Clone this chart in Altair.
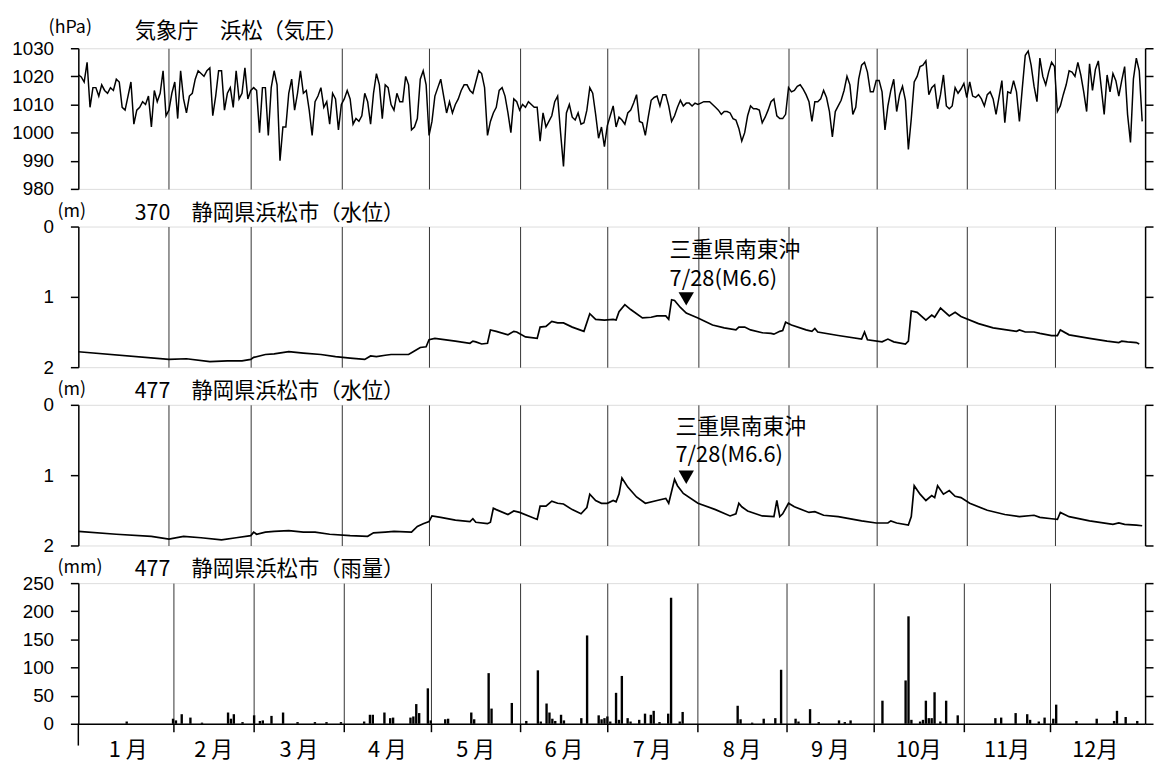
import altair as alt
import pandas as pd

# ---------------- data ----------------
# daily mean pressure, JMA Hamamatsu (hPa), day 1..365
pressure = [
    1020.5, 1019.8, 1018, 1025, 1009, 1016, 1016, 1013, 1017, 1015,
    1014, 1016, 1015, 1019, 1018, 1009, 1008, 1013, 1018, 1003,
    1008, 1009, 1011, 1010, 1013, 1002, 1015, 1011, 1014, 1022,
    1006, 1008, 1014, 1018, 1005, 1022, 1012, 1007, 1013, 1014,
    1019, 1022, 1021, 1020, 1022, 1023, 1006, 1013, 1022, 1022,
    1008, 1014, 1016, 1009, 1022, 1012, 1014, 1023, 1012, 1015,
    1016, 1015, 1000, 1016, 1016, 999, 1016, 1022, 1017, 990,
    1002, 1002, 1014, 1019, 1008, 1014, 1022, 1014, 1015, 1008,
    999, 1011, 1013, 1016, 1009, 1011, 1003, 1014, 1012, 1001,
    1010, 1012, 1015, 1012, 1003, 1005, 1004, 1006, 1014, 1011,
    1003, 1014, 1021, 1017, 1005, 1017, 1016, 1010, 1008, 1014,
    1011, 1011, 1020, 1017, 1001, 1002, 1005, 1019, 1022, 1017,
    999, 1004, 1013, 1016, 1019, 1013, 1007, 1011, 1007, 1010,
    1012, 1015, 1017, 1017, 1015, 1014, 1018, 1022, 1021, 1016,
    999, 1004, 1007, 1009, 1015, 1016, 1013, 1007, 1000, 1012,
    1011, 1008, 1010, 1009, 1011, 1010, 1009, 1009, 997, 1007,
    1002, 1004, 1006, 1011, 1013, 1000, 988, 1007, 1010, 1005.5,
    1004.5, 1007, 1003, 1003.5, 1008, 1016, 1014, 1006.5, 998, 1002,
    995, 1002.5, 1006, 1009.5, 1002, 1005.5, 1004.5, 1003, 1007, 1008,
    1010.5, 1013.5, 1004, 1003.5, 999, 1005.5, 1011.5, 1012.5, 1013, 1009.5,
    1013.5, 1013.5, 1009.5, 1004, 1006, 1009, 1011.5, 1009.5, 1010.5, 1010.5,
    1009.5, 1010.5, 1010, 1010.5, 1011, 1011, 1011, 1010, 1009, 1008,
    1006.5, 1007.5, 1007.5, 1007, 1005, 1004.5, 1001.5, 997, 1000, 1006,
    1009.5, 1008.5, 1008.5, 1008, 1003.5, 1005.5, 1008, 1011, 1012, 1006,
    1005, 1005, 1006.5, 1016, 1014.5, 1015, 1016.5, 1017, 1015.5, 1013.5,
    1011, 1004, 1011, 1011, 1012, 1015, 1012.5, 1007.5, 998.5, 1007.5,
    1009.5, 1011.5, 1015, 1020, 1017, 1006.5, 1009, 1019, 1024, 1025,
    1021.5, 1014.5, 1014.5, 1018.5, 1018.5, 1014.5, 1001, 1009.5, 1015, 1019,
    1007.5, 1013.5, 1016.5, 1011.5, 994, 1005, 1018, 1020, 1023.5, 1024,
    1025.5, 1013.5, 1016, 1017, 1008.5, 1013.5, 1020.5, 1009.5, 1008.5, 1009.5,
    1016, 1014, 1015.5, 1017.5, 1012.5, 1018, 1013, 1012.5, 1013.5, 1012,
    1009.5, 1013.5, 1014.5, 1012, 1006.5, 1012.5, 1018.5, 1003.5, 1014.5, 1014,
    1018.5, 1014.5, 1004, 1016, 1027.5, 1029, 1024, 1016.5, 1011, 1026.5,
    1020, 1017, 1021.5, 1025, 1023.5, 1007.5, 1009.5, 1013.5, 1017, 1022,
    1021.5, 1020, 1025, 1020.5, 1014.5, 1007.5, 1024.5, 1015, 1022.5, 1025.5,
    1016, 1006.5, 1020.5, 1014.5, 1021, 1018.5, 1013, 1018.5, 1023.5, 1006.5,
    996.5, 1019, 1026.5, 1022, 1004,
]

# well 370 water level (m below surface)
w370_day = [1, 32, 38, 46, 52, 57, 60, 61, 65, 68, 73, 78, 84, 89, 94, 99, 101, 103, 106, 108,
            114, 116, 118, 120, 121, 123, 130, 135, 136, 137, 139, 141, 142, 144, 148, 150, 151, 154, 158, 159,
            161, 163, 165, 167, 170, 174, 176, 178, 181, 184, 185, 186, 188, 190, 194, 197, 199, 202, 203, 204,
            205, 207, 209, 213, 218, 222, 226, 227, 229, 231, 235, 238, 239, 241, 242, 243, 245, 250, 252, 253,
            254, 261, 269, 270, 271, 276, 278, 280, 284, 285, 286, 288, 291, 293, 294, 296, 299, 301, 303, 309,
            314, 322, 323, 325, 328, 330, 334, 336, 337, 340, 347, 353, 357, 358, 360, 363, 364]
w370_val = [1.78, 1.89, 1.88, 1.92, 1.91, 1.91, 1.89, 1.86, 1.82, 1.81, 1.78, 1.80, 1.82, 1.85, 1.87, 1.89, 1.84, 1.85, 1.83, 1.82,
            1.82, 1.77, 1.72, 1.71, 1.61, 1.59, 1.63, 1.66, 1.63, 1.64, 1.67, 1.66, 1.47, 1.49, 1.54, 1.49, 1.50, 1.57, 1.59, 1.43,
            1.42, 1.35, 1.37, 1.37, 1.43, 1.49, 1.24, 1.32, 1.33, 1.32, 1.33, 1.21, 1.11, 1.18, 1.30, 1.29, 1.27, 1.27, 1.32, 1.04,
            1.05, 1.15, 1.23, 1.30, 1.40, 1.44, 1.47, 1.43, 1.43, 1.47, 1.51, 1.52, 1.53, 1.49, 1.48, 1.36, 1.40, 1.47, 1.49, 1.45,
            1.50, 1.55, 1.60, 1.50, 1.61, 1.64, 1.60, 1.64, 1.67, 1.63, 1.20, 1.22, 1.33, 1.26, 1.29, 1.16, 1.27, 1.22, 1.28, 1.38,
            1.44, 1.49, 1.47, 1.50, 1.50, 1.52, 1.55, 1.55, 1.47, 1.54, 1.59, 1.63, 1.65, 1.63, 1.64, 1.65, 1.67]

# well 477 water level (m below surface)
w477_day = [1, 14, 26, 32, 37, 43, 50, 55, 60, 61, 62, 65, 68, 73, 78, 82, 87, 94, 100, 102,
            106, 109, 115, 117, 119, 121, 122, 125, 130, 135, 136, 137, 141, 142, 143, 144, 148, 150, 152, 158,
            159, 161, 163, 165, 167, 170, 173, 175, 176, 178, 180, 182, 184, 185, 186, 187, 189, 192, 195, 199,
            202, 203, 205, 206, 208, 213, 219, 224, 226, 227, 228, 230, 235, 239, 240, 241, 242, 244, 246, 251,
            253, 256, 261, 269, 274, 278, 279, 281, 285, 286, 287, 289, 291, 293, 294, 295, 297, 299, 301, 303,
            306, 312, 318, 323, 328, 330, 334, 336, 337, 340, 347, 355, 357, 359, 363, 365]
w477_val = [1.80, 1.84, 1.87, 1.91, 1.87, 1.89, 1.92, 1.89, 1.86, 1.81, 1.84, 1.81, 1.80, 1.79, 1.81, 1.81, 1.84, 1.86, 1.87, 1.82,
            1.81, 1.80, 1.81, 1.73, 1.69, 1.66, 1.58, 1.60, 1.64, 1.66, 1.62, 1.67, 1.69, 1.67, 1.47, 1.49, 1.56, 1.51, 1.53, 1.63,
            1.44, 1.44, 1.37, 1.40, 1.41, 1.49, 1.55, 1.46, 1.27, 1.36, 1.40, 1.40, 1.36, 1.38, 1.27, 1.04, 1.17, 1.31, 1.40, 1.36,
            1.33, 1.40, 1.06, 1.15, 1.26, 1.40, 1.49, 1.58, 1.55, 1.40, 1.45, 1.51, 1.58, 1.59, 1.36, 1.59, 1.55, 1.40, 1.45, 1.53,
            1.52, 1.57, 1.59, 1.65, 1.68, 1.68, 1.65, 1.68, 1.71, 1.59, 1.15, 1.27, 1.36, 1.29, 1.32, 1.15, 1.27, 1.22, 1.30, 1.32,
            1.40, 1.50, 1.56, 1.59, 1.57, 1.60, 1.62, 1.63, 1.53, 1.59, 1.65, 1.70, 1.68, 1.70, 1.71, 1.72]

# well 477 daily rainfall (mm)
rain_day = [16, 32, 33, 35, 38, 42, 51, 52, 53, 56, 60, 62, 63, 66, 70, 75, 81, 85, 90, 98,
            100, 101, 105, 107, 108, 114, 115, 116, 117, 120, 121, 126, 127, 135, 136, 141, 142, 149, 154, 158,
            159, 161, 162, 163, 164, 166, 167, 173, 175, 179, 180, 181, 182, 183, 185, 186, 187, 189, 190, 193,
            195, 197, 198, 200, 203, 204, 207, 208, 227, 228, 232, 236, 240, 242, 247, 248, 252, 255, 262, 264,
            266, 277, 285, 286, 287, 290, 291, 292, 293, 294, 295, 297, 299, 303, 316, 318, 323, 327, 328, 331,
            333, 336, 337, 344, 351, 357, 358, 361, 365]
rain_mm = [4, 9, 6, 17, 11, 2, 20, 9, 17, 3, 15, 5, 6, 14, 20, 3, 3, 3, 3, 4,
           16, 16, 20, 10, 11, 11, 13, 35, 19, 63, 6, 8, 9, 20, 8, 90, 27, 37, 5, 95,
           4, 36, 20, 9, 5, 16, 6, 10, 157, 15, 8, 10, 13, 4, 55, 7, 85, 10, 4, 7,
           18, 16, 23, 3, 18, 224, 4, 21, 32, 8, 2, 9, 10, 96, 9, 4, 26, 3, 6, 3,
           6, 41, 77, 191, 7, 4, 7, 41, 10, 10, 56, 4, 41, 15, 10, 11, 19, 17, 7, 4,
           11, 9, 34, 5, 9, 5, 23, 12, 5]

month_labels = ["1 月", "2 月", "3 月", "4 月", "5 月", "6 月",
                "7 月", "8 月", "9 月", "10月", "11月", "12月"]
month_len = [31, 28, 31, 30, 31, 30, 31, 31, 30, 31, 30, 31]

quake_day = 209          # 7/28
quake_title = "三重県南東沖"
quake_sub = "7/28(M6.6)"

# ---------------- derived tables ----------------
month_start = [sum(month_len[:i]) for i in range(12)]
month_bounds = month_start[1:]
month_mid = [s + n / 2 for s, n in zip(month_start, month_len)]

df_p = pd.DataFrame({"x": [d - 1 for d in range(1, len(pressure) + 1)], "v": pressure})
df_370 = pd.DataFrame({"x": [d - 1 for d in w370_day], "v": w370_val})
df_477 = pd.DataFrame({"x": [d - 1 for d in w477_day], "v": w477_val})
df_rain = pd.DataFrame({"x": [d - 1 for d in rain_day], "v": rain_mm})
df_month = pd.DataFrame({"x": month_mid, "t": month_labels})

W = 1077
H = 142
NUM = "Liberation Sans, Arial, sans-serif"
JP = "Noto Sans CJK JP"

xscale = alt.Scale(domain=[0, 365], nice=False, zero=False)


def xaxis(bottom=False):
    return alt.Axis(values=month_bounds, grid=True, gridColor="#333333", gridWidth=1,
                    labels=False, ticks=bottom, tickSize=8, tickWidth=1.5, tickColor="black",
                    domain=bottom, domainColor="black", domainWidth=1.5, title=None)


def panel(df, ydomain, yvalues, unit, title, pos, bottom=False,
          kind="line", quake=None, sw=1.6):
    X = alt.X("x:Q", scale=xscale, axis=xaxis(bottom))
    ysc = alt.Scale(domain=ydomain, nice=False, zero=False)
    left = alt.Axis(orient="left", values=yvalues, labelExpr="'' + datum.value", tickSize=8,
                    tickWidth=1.5, tickColor="black", domainColor="black", domainWidth=1.5,
                    labelFont=NUM, labelFontSize=19, labelColor="black", labelPadding=17,
                    grid=False, title=None, labelFlush=False, labelOverlap=False,
                    labelBound=False, tickCount=10)
    right = alt.Axis(orient="right", values=yvalues, tickSize=8, tickWidth=1.5, tickColor="black",
                     domainColor="black", domainWidth=1.5, labels=False, grid=False, title=None,
                     tickCount=10)
    base = alt.Chart(df)
    if kind == "line":
        main = base.mark_line(color="black", strokeWidth=sw).encode(
            x=X, y=alt.Y("v:Q", scale=ysc, axis=left))
    else:
        main = base.mark_bar(color="black", size=2.4).encode(
            x=X, y=alt.Y("v:Q", scale=ysc, axis=left), y2=alt.datum(0))
    rax = base.mark_point(opacity=0).encode(x=X, y=alt.Y("v:Q", scale=ysc, axis=right))
    one = pd.DataFrame({"u": [unit], "t": [title]})
    unit_txt = alt.Chart(one).mark_text(font=JP, fontSize=18, align="left", baseline="middle",
                                        color="black").encode(
        x=alt.value(pos[0]), y=alt.value(pos[1]), text="u:N")
    title_txt = alt.Chart(one).mark_text(font=JP, fontSize=21.5, align="left", baseline="middle",
                                         color="black").encode(
        x=alt.value(57), y=alt.value(pos[2]), text="t:N")
    layers = [main, rax, unit_txt, title_txt]
    if quake is not None:
        qx, qy1, qy2, qy3 = quake
        ann = pd.DataFrame({"x": [qx, qx], "v": [qy1, qy2], "t": [quake_title, quake_sub]})
        layers.append(alt.Chart(ann).mark_text(font=JP, fontSize=22, align="left",
                                               baseline="middle", color="black").encode(
            x=X, y=alt.Y("v:Q", scale=ysc, axis=None), text="t:N"))
        tri = pd.DataFrame({"x": [quake_day - 1], "v": [qy3]})
        layers.append(alt.Chart(tri).mark_point(shape="triangle-down", filled=True, color="black",
                                                opacity=1, size=240).encode(
            x=X, y=alt.Y("v:Q", scale=ysc, axis=None)))
    if bottom:
        layers.append(alt.Chart(df_month).mark_text(font=JP, fontSize=22, align="center",
                                                    baseline="middle", color="black").encode(
            x=X, text="t:N", y=alt.value(H + 27)))
        layers.append(alt.Chart(pd.DataFrame({"a": [0]})).mark_rule(
            color="black", strokeWidth=1.5).encode(
            x=alt.value(0), y=alt.value(H), y2=alt.value(H + 22)))
    return alt.layer(*layers).resolve_axis(y="independent").properties(width=W, height=H)


p1 = panel(df_p, [980, 1030], [980, 990, 1000, 1010, 1020, 1030], "(hPa)",
           "気象庁　浜松（気圧）", (-30, -20, -16.5), sw=1.5)
p2 = panel(df_370, [2, 0], [0, 1, 2], "(m)", "370　静岡県浜松市（水位）",
           (-21, -15, -13), quake=(202.3, 0.34, 0.75, 1.03), sw=1.7)
p3 = panel(df_477, [2, 0], [0, 1, 2], "(m)", "477　静岡県浜松市（水位）",
           (-21, -15, -13), quake=(204.3, 0.32, 0.72, 1.03), sw=1.7)
p4 = panel(df_rain, [0, 250], [0, 50, 100, 150, 200, 250], "(mm)", "477　静岡県浜松市（雨量）",
           (-21, -15, -13), bottom=True, kind="bar")

chart = alt.vconcat(p1, p2, p3, p4, spacing=38, bounds="flush").properties(
    padding={"left": 3, "top": 7, "right": 0, "bottom": 0}
).configure_view(stroke=None).configure(background="white")

chart.save("out.html", embed_options={"renderer": "svg", "actions": False})
